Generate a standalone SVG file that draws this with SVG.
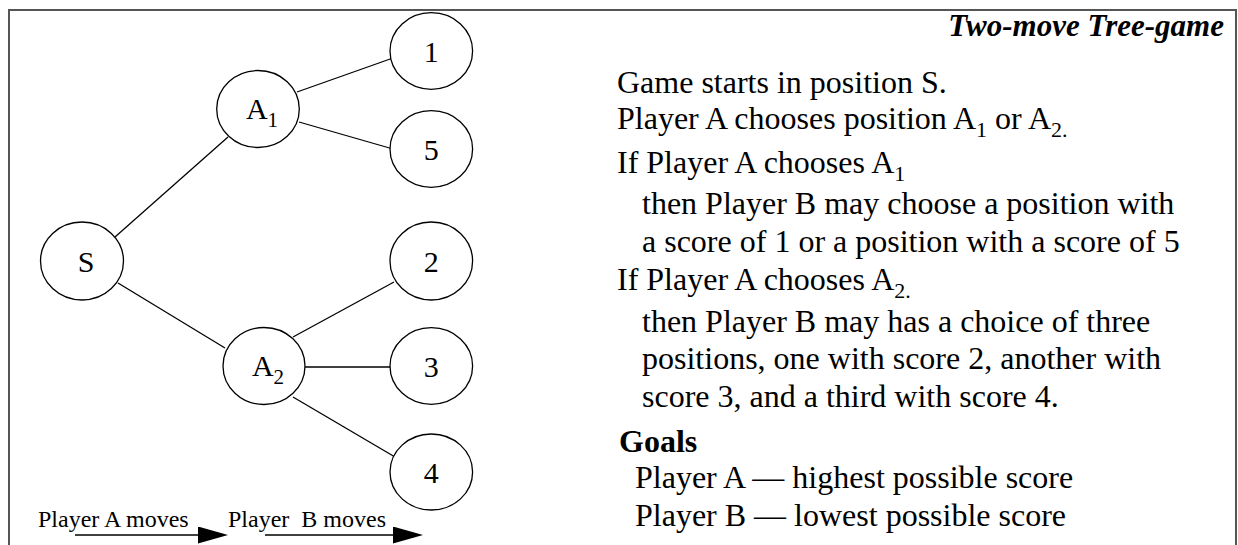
<svg xmlns="http://www.w3.org/2000/svg" width="1238" height="545" viewBox="0 0 1238 545">
<style>
.node ellipse{fill:#fff;stroke:#000;stroke-width:1.3}
.lbl{font-family:"Liberation Serif","Times New Roman",serif;font-size:30px;fill:#000;text-anchor:middle}
.sub{font-size:21px}
.edge line{stroke:#000;stroke-width:1.3}
.body{font-family:"Liberation Serif","Times New Roman",serif;font-size:32px;fill:#000}
.bs{font-size:22px}
.cap{font-family:"Liberation Serif","Times New Roman",serif;font-size:24px;fill:#000;white-space:pre}
</style>
<defs>
<marker id="ah" markerWidth="30" markerHeight="17" refX="0" refY="8.5" orient="auto" markerUnits="userSpaceOnUse">
<path d="M0,0 L30,8.5 L0,17 Z" fill="#000"/>
</marker>
</defs>
<rect x="0" y="0" width="1238" height="545" fill="#fff"/>
<path d="M9,546 V10 H1236 V546" fill="none" stroke="#555" stroke-width="2"/>

<g id="connectors" class="edge">
<line x1="115" y1="237" x2="228" y2="137"/>
<line x1="297" y1="92" x2="393" y2="58"/>
<line x1="299" y1="122" x2="393" y2="149"/>
<line x1="118" y1="283" x2="225" y2="348"/>
<line x1="293" y1="337" x2="394" y2="282"/>
<line x1="305" y1="367" x2="393" y2="367"/>
<line x1="293" y1="397" x2="395" y2="457"/>
</g>

<g id="node-S" class="node"><ellipse cx="82" cy="261" rx="41.5" ry="39"/><text class="lbl" x="86" y="272">S</text></g>
<g id="node-A1" class="node"><ellipse cx="258" cy="109" rx="41.3" ry="38.5"/><text class="lbl" x="262" y="119">A<tspan class="sub" dy="8">1</tspan></text></g>
<g id="node-A2" class="node"><ellipse cx="264" cy="366" rx="41" ry="38.5"/><text class="lbl" x="268" y="376">A<tspan class="sub" dy="8">2</tspan></text></g>
<g id="node-1" class="node"><ellipse cx="431.3" cy="51" rx="41.3" ry="38.3"/><text class="lbl" x="431.3" y="62">1</text></g>
<g id="node-5" class="node"><ellipse cx="431.3" cy="149" rx="41.3" ry="38.3"/><text class="lbl" x="431.3" y="160">5</text></g>
<g id="node-2" class="node"><ellipse cx="431.3" cy="261" rx="41.3" ry="39"/><text class="lbl" x="431.3" y="272">2</text></g>
<g id="node-3" class="node"><ellipse cx="431.3" cy="366" rx="41.3" ry="38.3"/><text class="lbl" x="431.3" y="377">3</text></g>
<g id="node-4" class="node"><ellipse cx="431.3" cy="472" rx="41.3" ry="38"/><text class="lbl" x="431.3" y="483">4</text></g>

<g id="moves">
<text class="cap" x="38" y="527">Player A moves</text>
<text class="cap" x="228" y="527">Player  B moves</text>
<line x1="75" y1="535" x2="198" y2="535" stroke="#000" stroke-width="1.5" marker-end="url(#ah)"/>
<line x1="265" y1="535" x2="393" y2="535" stroke="#000" stroke-width="1.5" marker-end="url(#ah)"/>
</g>

<g id="description">
<text x="1224" y="36" font-family="Liberation Serif, Times New Roman, serif" font-size="31" font-weight="bold" font-style="italic" text-anchor="end">Two-move Tree-game</text>
<text class="body" x="617" y="93">Game starts in position S.</text>
<text class="body" x="617" y="129">Player A chooses position A<tspan class="bs" dy="8">1</tspan><tspan dy="-8"> or A</tspan><tspan class="bs" dy="8">2.</tspan></text>
<text class="body" x="617" y="173">If Player A chooses A<tspan class="bs" dy="8">1</tspan></text>
<text class="body" x="642" y="214">then Player B may choose a position with</text>
<text class="body" x="642" y="252">a score of 1 or a position with a score of 5</text>
<text class="body" x="617" y="290">If Player A chooses A<tspan class="bs" dy="8">2.</tspan></text>
<text class="body" x="642" y="332">then Player B may has a choice of three</text>
<text class="body" x="642" y="369">positions, one with score 2, another with</text>
<text class="body" x="642" y="407">score 3, and a third with score 4.</text>
<text class="body" x="619" y="452" font-weight="bold">Goals</text>
<text class="body" x="635" y="488">Player A — highest possible score</text>
<text class="body" x="635" y="526">Player B — lowest possible score</text>
</g>
</svg>
